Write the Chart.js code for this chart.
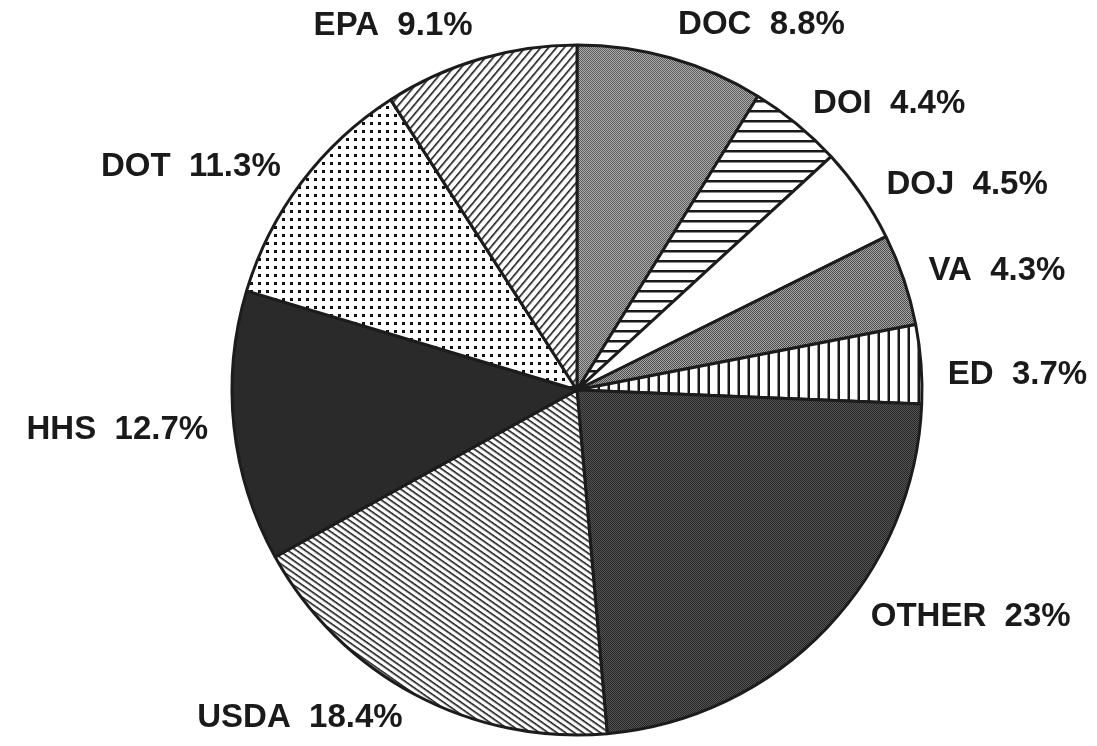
<!DOCTYPE html>
<html>
<head>
<meta charset="utf-8">
<script src="https://cdn.jsdelivr.net/npm/chart.js@4/dist/chart.umd.min.js"></script>
<style>
  html, body { margin: 0; padding: 0; background: #fff; }
  #wrap { width: 1097px; height: 746px; }
</style>
</head>
<body>
<div id="wrap"><canvas id="pie"></canvas></div>
<script>
// agencies, clockwise from 12 o'clock
const agencies = ['DOC', 'DOI', 'DOJ', 'VA', 'ED', 'OTHER', 'USDA', 'HHS', 'DOT', 'EPA'];
const shares = [8.8, 4.4, 4.5, 4.3, 3.7, 23, 18.4, 12.7, 11.3, 9.1];
const shareLabels = ['8.8%', '4.4%', '4.5%', '4.3%', '3.7%', '23%', '18.4%', '12.7%', '11.3%', '9.1%'];
const fillKinds = ['gray', 'hlines', 'white', 'gray2', 'vlines', 'dark', 'diagBack', 'black', 'dots', 'diagFwd'];
// small angle tweaks (degrees) for where each label sits around the rim
const labelNudge = [0, 0, 1, 0, 2, -6, 0, 0, 0, 0];

function tile(w, h, draw) {
    const c = document.createElement('canvas');
    c.width = w; c.height = h;
    const g = c.getContext('2d');
    draw(g);
    return c;
}

function stipple(light, dark) {
    // fine checker like a halftone
    return tile(2, 2, function (g) {
        g.fillStyle = light; g.fillRect(0, 0, 2, 2);
        g.fillStyle = dark; g.fillRect(0, 0, 1, 1); g.fillRect(1, 1, 1, 1);
    });
}

function stripes(gap, lw, angle) {
    const c = tile(1, gap, function (g) {
        g.fillStyle = '#fff'; g.fillRect(0, 0, 1, gap);
        g.fillStyle = '#1a1a1a'; g.fillRect(0, 0, 1, lw);
    });
    return { canvas: c, angle: angle };
}

function makeFill(ctx, kind) {
    switch (kind) {
        case 'white': return '#ffffff';
        case 'black': return '#2a2a2a';
        case 'gray': return ctx.createPattern(stipple('#b0b0b0', '#585858'), 'repeat');
        case 'gray2': return ctx.createPattern(stipple('#a8a8a8', '#4a4a4a'), 'repeat');
        case 'dark': return ctx.createPattern(stipple('#555555', '#262626'), 'repeat');
        case 'dots':
            return ctx.createPattern(tile(8, 8, function (g) {
                g.fillStyle = '#fff'; g.fillRect(0, 0, 8, 8);
                g.fillStyle = '#111'; g.fillRect(2, 2, 3, 3);
            }), 'repeat');
        default: {
            const s = kind === 'hlines' ? stripes(10, 2.5, 0)
                : kind === 'vlines' ? stripes(10, 2.5, 90)
                : kind === 'diagBack' ? stripes(5, 1.6, 35)
                : stripes(6.5, 1.6, -50);
            const p = ctx.createPattern(s.canvas, 'repeat');
            p.setTransform(new DOMMatrix().rotate(s.angle));
            return p;
        }
    }
}

const labelPlugin = {
    id: 'sliceLabels',
    afterDraw(chart) {
        const ctx = chart.ctx;
        const meta = chart.getDatasetMeta(0);
        ctx.save();
        ctx.font = 'bold 33px "Liberation Sans", Arial, sans-serif';
        ctx.fillStyle = '#1a1a1a';
        ctx.textBaseline = 'middle';
        meta.data.forEach(function (arc, i) {
            const mid = (arc.startAngle + arc.endAngle) / 2 + labelNudge[i] * Math.PI / 180;
            const r = arc.outerRadius + 26;
            const x = arc.x + Math.cos(mid) * r;
            let y = arc.y + Math.sin(mid) * r;
            if (Math.sin(mid) < -0.9) y -= 8;
            ctx.textAlign = Math.cos(mid) >= 0 ? 'left' : 'right';
            ctx.fillText(agencies[i] + '  ' + shareLabels[i], x, y);
        });
        ctx.restore();
    }
};

const canvas = document.getElementById('pie');
const ctx = canvas.getContext('2d');

new Chart(canvas, {
    type: 'pie',
    data: {
        labels: agencies,
        datasets: [{
            data: shares,
            backgroundColor: fillKinds.map(function (k) { return makeFill(ctx, k); }),
            borderColor: '#1c1c1c',
            borderWidth: 3,
            radius: 345
        }]
    },
    options: {
        responsive: true,
        maintainAspectRatio: false,
        animation: false,
        layout: { padding: { top: 45, bottom: 11, left: 60, right: 3 } },
        plugins: {
            legend: { display: false },
            tooltip: { enabled: false }
        }
    },
    plugins: [labelPlugin]
});
</script>
</body>
</html>
